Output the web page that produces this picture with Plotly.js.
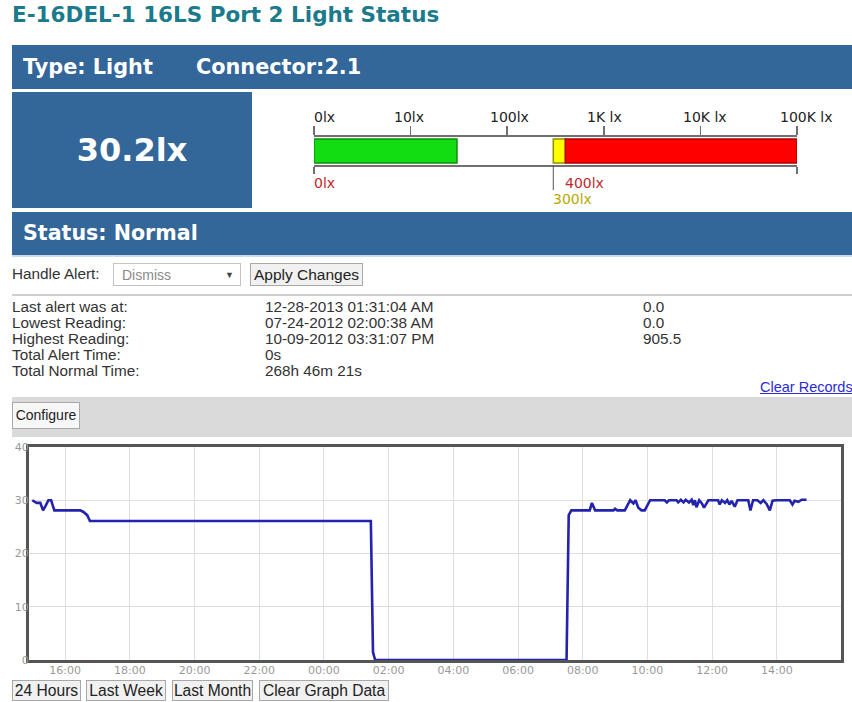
<!DOCTYPE html>
<html><head><meta charset="utf-8">
<script src="https://cdn.plot.ly/plotly-3.0.1.min.js"></script>
<style>
html,body{margin:0;padding:0;background:#fff;}
body{width:852px;height:702px;overflow:hidden;position:relative;font-family:"Liberation Sans",Arial,sans-serif;color:#333;}
.a{position:absolute;white-space:nowrap;}
.hdr{background:#336699;color:#fff;font-family:"DejaVu Sans",Verdana,sans-serif;font-weight:bold;}
.btn{position:absolute;background:#f1f1f1;border:1px solid #a8a8a8;box-sizing:border-box;text-align:center;color:#222;white-space:nowrap;}
.row{position:absolute;font-size:15.3px;line-height:16px;color:#333;white-space:nowrap;}
</style></head><body>

<div class="a" style="left:12px;top:2px;font-family:'DejaVu Sans',Verdana,sans-serif;font-weight:bold;font-size:21.5px;line-height:26px;color:#1b7a8c;">E-16DEL-1 16LS Port 2 Light Status</div>

<div class="a hdr" style="left:12px;top:45px;width:840px;height:44px;font-size:20.8px;line-height:44px;">
  <span class="a" style="left:11px;top:0;">Type: Light</span>
  <span class="a" style="left:184px;top:0;">Connector:2.1</span>
</div>

<div class="a hdr" id="valbox" style="left:12px;top:92px;width:240px;height:116px;font-size:32px;line-height:116px;text-align:center;"></div>

<div id="gauge" class="a" style="left:300px;top:95px;width:552px;height:115px;"></div>

<div class="a hdr" style="left:12px;top:212px;width:840px;height:43px;font-size:20.6px;line-height:43px;border-bottom:2px solid #c9dcef;">
  <span class="a" style="left:11px;top:0;">Status: Normal</span>
</div>

<div class="a" style="left:12px;top:266px;font-size:15.3px;line-height:16px;color:#333;">Handle Alert:</div>
<div class="a" style="left:113px;top:263px;width:128px;height:23px;border:1px solid #c4c4c4;box-sizing:border-box;background:#fff;">
  <span class="a" style="left:8px;top:3px;font-size:14px;line-height:16px;color:#8a8a8a;">Dismiss</span>
  <span class="a" style="left:111px;top:4px;font-size:9px;line-height:14px;color:#444;">&#9660;</span>
</div>
<div class="btn" style="left:250px;top:263px;width:113px;height:23px;font-size:15.5px;line-height:21px;">Apply Changes</div>

<div class="a" style="left:12px;top:294px;width:840px;height:2px;background:#cfcfcf;"></div>

<div id="stats"></div>

<div class="a" style="left:760px;top:379px;font-size:14.5px;line-height:16px;color:#2a2ad8;text-decoration:underline;">Clear Records</div>

<div class="a" style="left:12px;top:397px;width:840px;height:40px;background:#dadada;"></div>
<div class="btn" style="left:12px;top:402px;width:68px;height:27px;font-size:14px;line-height:25px;background:#f7f7f7;">Configure</div>

<div id="chart" class="a" style="left:0px;top:437px;width:852px;height:243px;"></div>

<div class="btn" style="left:12px;top:680px;width:69px;height:21px;font-size:15.6px;line-height:19px;">24 Hours</div>
<div class="btn" style="left:86px;top:680px;width:80px;height:21px;font-size:15.6px;line-height:19px;">Last Week</div>
<div class="btn" style="left:172px;top:680px;width:81px;height:21px;font-size:15.6px;line-height:19px;">Last Month</div>
<div class="btn" style="left:259px;top:680px;width:130px;height:21px;font-size:15.6px;line-height:19px;">Clear Graph Data</div>

<script>
// ---------- data ----------
const currentValue = 30.2;
const unit = 'lx';
const gaugeTicks = [1, 10, 100, 1000, 10000, 100000];
const gaugeTickLabels = ['0lx', '10lx', '100lx', '1K lx', '10K lx', '100K lx'];
const bandNames = ['reading', 'warning', 'alarm'];
const bandStart = [1, 300, 400];
const bandEnd = [30.2, 400, 100000];
const limitValues = [1, 400, 300];
const limitLabels = ['0lx', '400lx', '300lx'];

const statLabels = ['Last alert was at:', 'Lowest Reading:', 'Highest Reading:', 'Total Alert Time:', 'Total Normal Time:'];
const statTimes = ['12-28-2013 01:31:04 AM', '07-24-2012 02:00:38 AM', '10-09-2012 03:31:07 PM', '0s', '268h 46m 21s'];
const statValues = ['0.0', '0.0', '905.5', '', ''];

const times = [
 '2013-12-27 14:59','2013-12-27 15:07','2013-12-27 15:14','2013-12-27 15:19','2013-12-27 15:24',
 '2013-12-27 15:29','2013-12-27 15:34','2013-12-27 15:40','2013-12-27 16:28','2013-12-27 16:34',
 '2013-12-27 16:41','2013-12-27 16:46','2013-12-28 01:27','2013-12-28 01:31','2013-12-28 01:35',
 '2013-12-28 07:30','2013-12-28 07:34','2013-12-28 07:39','2013-12-28 08:13','2013-12-28 08:17',
 '2013-12-28 08:23','2013-12-28 08:57','2013-12-28 09:00','2013-12-28 09:04','2013-12-28 09:18',
 '2013-12-28 09:28','2013-12-28 09:34','2013-12-28 09:38','2013-12-28 09:43','2013-12-28 09:49',
 '2013-12-28 09:55','2013-12-28 10:05','2013-12-28 10:32','2013-12-28 10:36','2013-12-28 10:40',
 '2013-12-28 10:54','2013-12-28 10:57','2013-12-28 11:02','2013-12-28 11:07','2013-12-28 11:11',
 '2013-12-28 11:17','2013-12-28 11:22','2013-12-28 11:25','2013-12-28 11:28','2013-12-28 11:31',
 '2013-12-28 11:36','2013-12-28 11:41','2013-12-28 11:45','2013-12-28 11:53','2013-12-28 12:11',
 '2013-12-28 12:14','2013-12-28 12:18','2013-12-28 12:24','2013-12-28 12:28','2013-12-28 12:32',
 '2013-12-28 12:36','2013-12-28 12:42','2013-12-28 12:47','2013-12-28 13:07','2013-12-28 13:11',
 '2013-12-28 13:16','2013-12-28 13:24','2013-12-28 13:30','2013-12-28 13:35','2013-12-28 13:41',
 '2013-12-28 13:47','2013-12-28 13:52','2013-12-28 13:59','2013-12-28 14:24','2013-12-28 14:29',
 '2013-12-28 14:33','2013-12-28 14:40','2013-12-28 14:46','2013-12-28 14:55'
];
const lux = [
 30.0, 29.5, 29.5, 28.1, 29.0,
 30.0, 30.0, 28.1, 28.1, 27.8,
 27.2, 26.1, 26.1, 1.5, 0.0,
 0.0, 27.2, 28.1, 28.1, 29.5,
 28.1, 28.1, 28.4, 28.1, 28.1,
 30.0, 29.4, 30.0, 28.6, 28.1,
 28.1, 30.0, 30.0, 29.6, 30.0,
 30.0, 29.6, 30.1, 29.6, 30.1,
 29.6, 30.1, 29.1, 30.0, 28.7,
 30.0, 29.4, 28.6, 30.0, 30.0,
 29.2, 30.0, 29.5, 30.0, 29.2,
 29.9, 28.8, 30.0, 30.0, 28.1,
 30.0, 30.0, 29.5, 30.0, 29.3,
 28.1, 29.9, 30.0, 30.0, 29.2,
 29.9, 29.7, 30.1, 30.1
];
const yTicks = [0, 10, 20, 30, 40];
const xRange = ['2013-12-27 14:53', '2013-12-28 15:59'];

// ---------- page text ----------
document.getElementById('valbox').textContent = currentValue.toFixed(1) + unit;
const statCols = [12, 265, 643];
const statsDiv = document.getElementById('stats');
[statLabels, statTimes, statValues].forEach((col, ci) => {
  col.forEach((t, ri) => {
    const d = document.createElement('div');
    d.className = 'row';
    d.style.left = statCols[ci] + 'px';
    d.style.top = (299 + ri * 16) + 'px';
    d.textContent = t;
    statsDiv.appendChild(d);
  });
});

// ---------- gauge ----------
const bandFill = ['#12dd12', '#ffff00', '#ff0000'];
const bandLine = ['#0b8f0b', '#8f8f00', '#b00000'];
const limitColors = ['#c0282d', '#c0282d', '#b8a800'];
const limitY = [-0.64, -0.64, -1.22];
const gaugeFont = {family: 'DejaVu Sans, Verdana, sans-serif', size: 14, color: '#222'};

const tickAnn = gaugeTickLabels.map((t, i) => ({
  x: Math.log10(gaugeTicks[i]), xref: 'x', y: 1, yref: 'paper',
  xanchor: 'left', yanchor: 'bottom', yshift: 10, xshift: i === 0 ? -2 : -19,
  text: t, showarrow: false, font: gaugeFont
}));
const limitAnn = limitLabels.map((t, i) => ({
  x: Math.log10(limitValues[i]), xref: 'x', y: limitY[i], yref: 'paper',
  xanchor: 'left', yanchor: 'middle', text: t, showarrow: false, xshift: -2,
  font: Object.assign({}, gaugeFont, {color: limitColors[i]})
}));

Plotly.newPlot('gauge', [
  {
    type: 'bar', orientation: 'h',
    y: bandNames.map(() => 14),
    x: bandEnd.map((e, i) => e - bandStart[i]),
    base: bandStart,
    width: 24,
    marker: {color: bandFill, line: {color: bandLine, width: 1.5}},
    hoverinfo: 'skip', showlegend: false
  },
  {type: 'scatter', x: [], y: [], xaxis: 'x2', showlegend: false}
], {
  margin: {l: 14, r: 55, t: 42, b: 45},
  paper_bgcolor: 'rgba(0,0,0,0)', plot_bgcolor: 'rgba(0,0,0,0)',
  xaxis: {
    type: 'log', range: [0, 5], side: 'top', showgrid: false, zeroline: false,
    showline: true, linecolor: '#707070', linewidth: 2,
    ticks: 'outside', ticklen: 9, tickwidth: 1.5, tickcolor: '#707070',
    tickvals: gaugeTicks, showticklabels: false,
    fixedrange: true
  },
  xaxis2: {
    type: 'log', range: [0, 5], overlaying: 'x', side: 'bottom', showgrid: false, zeroline: false,
    showline: true, linecolor: '#707070', linewidth: 2,
    ticks: 'outside', ticklen: 7, tickwidth: 1.5, tickcolor: '#707070',
    tickvals: [gaugeTicks[0], gaugeTicks[gaugeTicks.length - 1]], showticklabels: false,
    fixedrange: true
  },
  yaxis: {range: [0, 28], visible: false, fixedrange: true},
  bargap: 0,
  shapes: [{
    type: 'line', xref: 'x', yref: 'paper', x0: limitValues[2], x1: limitValues[2], y0: 0, y1: -0.9,
    line: {color: '#555', width: 1}
  }],
  annotations: tickAnn.concat(limitAnn)
}, {displayModeBar: false, staticPlot: true});

// ---------- line chart ----------
Plotly.newPlot('chart', [{
  type: 'scatter', mode: 'lines', x: times, y: lux,
  line: {color: '#2323b0', width: 2.6, shape: 'linear'},
  hoverinfo: 'x+y', showlegend: false
}], {
  margin: {l: 29, r: 11, t: 10, b: 20},
  paper_bgcolor: 'rgba(0,0,0,0)', plot_bgcolor: '#fff',
  xaxis: {
    type: 'date', range: xRange, tick0: '2013-12-27 16:00', dtick: 7200000, tickformat: '%H:%M',
    showgrid: true, gridcolor: '#dedede', gridwidth: 1,
    showline: true, mirror: true, linecolor: '#555', linewidth: 3,
    ticks: '', ticklabelstandoff: -2,
    tickfont: {family: 'DejaVu Sans, Verdana, sans-serif', size: 11, color: '#999'},
    zeroline: false
  },
  yaxis: {
    range: [0, 40], tickvals: yTicks,
    showgrid: true, gridcolor: '#dedede', gridwidth: 1,
    showline: true, mirror: true, linecolor: '#555', linewidth: 3,
    ticks: '', ticklabelstandoff: -5,
    tickfont: {family: 'DejaVu Sans, Verdana, sans-serif', size: 11, color: '#999'},
    zeroline: false
  }
}, {displayModeBar: false});
</script>
</body></html>
